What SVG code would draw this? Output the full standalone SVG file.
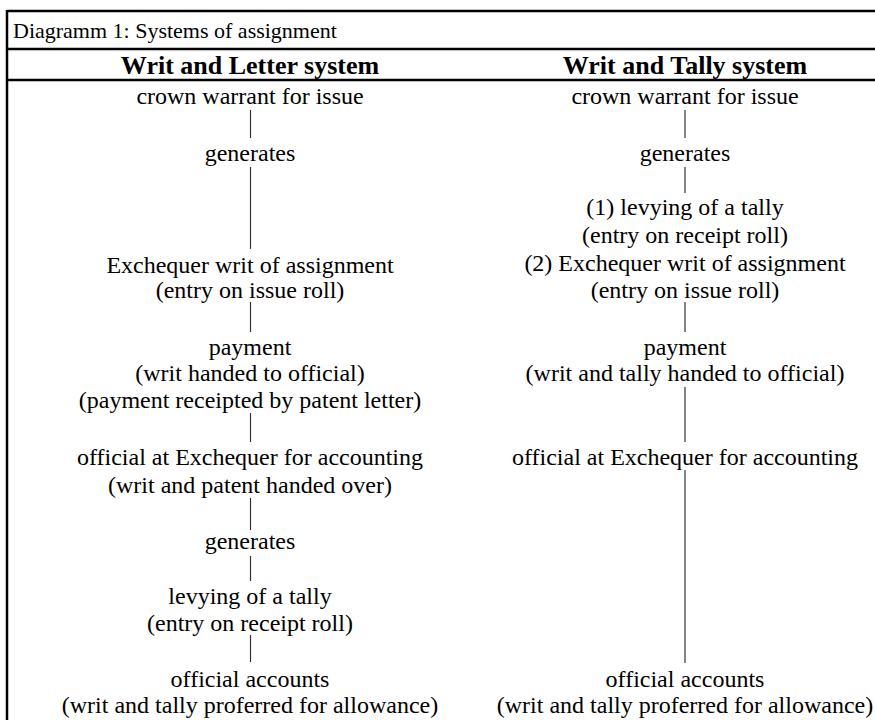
<svg xmlns="http://www.w3.org/2000/svg" width="875" height="720" viewBox="0 0 875 720">
<style>
text{font-family:"Liberation Serif","Times New Roman",serif;font-size:24px;fill:#000;text-anchor:middle}
.title{text-anchor:start;font-size:22px}
.hdr{font-weight:bold;font-size:26px}
.frame{stroke:#000;stroke-width:2.5;fill:none}
.cl{stroke:#333;stroke-width:1.2}
.cr{stroke:#666;stroke-width:1.6}
</style>
<rect width="875" height="720" fill="#fff"/>
<g id="frame">
<line class="frame" x1="7" y1="11" x2="875" y2="11"/>
<line class="frame" x1="7" y1="49" x2="875" y2="49"/>
<line class="frame" x1="7" y1="80" x2="875" y2="80"/>
<line class="frame" x1="7" y1="10" x2="7" y2="720"/>
</g>
<g id="title"><text class="title" x="13" y="38">Diagramm 1: Systems of assignment</text></g>
<g id="hdr-left"><text class="hdr" x="250" y="74">Writ and Letter system</text></g>
<g id="hdr-right"><text class="hdr" x="685" y="74">Writ and Tally system</text></g>
<g id="connectors">
<line class="cl" x1="250.5" y1="110" x2="250.5" y2="138"/>
<line class="cl" x1="250.5" y1="167" x2="250.5" y2="249"/>
<line class="cl" x1="250.5" y1="302" x2="250.5" y2="332"/>
<line class="cl" x1="250.5" y1="413" x2="250.5" y2="442"/>
<line class="cl" x1="250.5" y1="498" x2="250.5" y2="530"/>
<line class="cl" x1="250.5" y1="556" x2="250.5" y2="581"/>
<line class="cl" x1="250.5" y1="635" x2="250.5" y2="662"/>
<line class="cr" x1="685" y1="110" x2="685" y2="138"/>
<line class="cr" x1="685" y1="167" x2="685" y2="193"/>
<line class="cr" x1="685" y1="302" x2="685" y2="332"/>
<line class="cr" x1="685" y1="387" x2="685" y2="442"/>
<line class="cr" x1="685" y1="470" x2="685" y2="663"/>
</g>
<g id="L1"><text x="250" y="104">crown warrant for issue</text></g>
<g id="L2"><text x="250" y="161">generates</text></g>
<g id="L3"><text x="250" y="273">Exchequer writ of assignment</text><text x="250" y="298">(entry on issue roll)</text></g>
<g id="L4"><text x="250" y="355">payment</text><text x="250" y="381">(writ handed to official)</text><text x="250" y="408">(payment receipted by patent letter)</text></g>
<g id="L5"><text x="250" y="465">official at Exchequer for accounting</text><text x="250" y="493">(writ and patent handed over)</text></g>
<g id="L6"><text x="250" y="549">generates</text></g>
<g id="L7"><text x="250" y="604">levying of a tally</text><text x="250" y="631">(entry on receipt roll)</text></g>
<g id="L8"><text x="250" y="687">official accounts</text><text x="250" y="713">(writ and tally proferred for allowance)</text></g>
<g id="R1"><text x="685" y="104">crown warrant for issue</text></g>
<g id="R2"><text x="685" y="161">generates</text></g>
<g id="R3"><text x="685" y="215">(1) levying of a tally</text><text x="685" y="243">(entry on receipt roll)</text><text x="685" y="271">(2) Exchequer writ of assignment</text><text x="685" y="298">(entry on issue roll)</text></g>
<g id="R4"><text x="685" y="355">payment</text><text x="685" y="381">(writ and tally handed to official)</text></g>
<g id="R5"><text x="685" y="465">official at Exchequer for accounting</text></g>
<g id="R6"><text x="685" y="687">official accounts</text><text x="685" y="713">(writ and tally proferred for allowance)</text></g>
</svg>
